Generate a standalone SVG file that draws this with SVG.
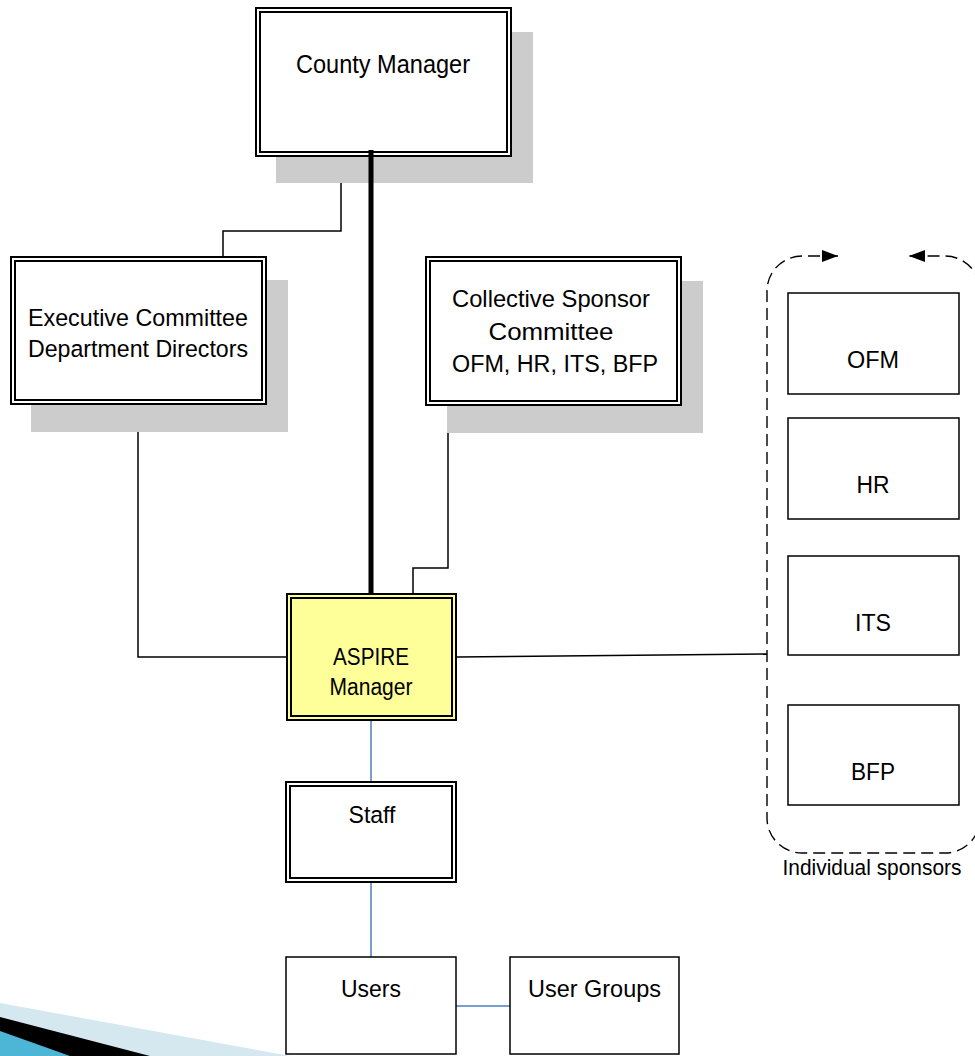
<svg xmlns="http://www.w3.org/2000/svg" width="975" height="1056" viewBox="0 0 975 1056">
<style>
text{font-family:"Liberation Sans",Arial,sans-serif;font-size:24.5px;fill:#000;text-anchor:middle}
.shadow{fill:#CCCCCC;stroke:none}
.dbl{fill:#fff;stroke:#000;stroke-width:2}
.yel{fill:#FFFF99;stroke:#000;stroke-width:2}
.box{fill:#fff;stroke:#000;stroke-width:1.5}
.ln{fill:none;stroke:#000;stroke-width:1.5}
.blue{fill:none;stroke:#4A7EBB;stroke-width:1.5}
.dash{fill:none;stroke:#000;stroke-width:1.4;stroke-dasharray:12 6}
</style>
<defs>
<marker id="arr" markerUnits="userSpaceOnUse" markerWidth="17" markerHeight="13" refX="16" refY="6" orient="auto-start-reverse">
<path d="M0,0 L16,6 L0,12 z" fill="#000"/>
</marker>
</defs>
<g id="decor">
<polygon points="0,1003 290,1056 0,1056" fill="#D5E8F0"/>
<polygon points="0,1017 150,1056 0,1056" fill="#000"/>
<polygon points="0,1031 70,1056 0,1056" fill="#4DB6D6"/>
</g>
<g id="connectors">
<path class="ln" d="M341,156 V231 H223 V256"/>
<path class="ln" d="M138,404 V657 H286"/>
<path class="ln" d="M448,405 V568 H413 V593"/>
<path class="ln" d="M457,657 L767,654"/>
<path class="blue" d="M371,721 V782"/>
<path class="blue" d="M371,882 V957"/>
<path class="blue" d="M456,1006 H510"/>
<path class="dash" d="M838,256 H802 A35,35 0 0 0 767,291 V818 A35,35 0 0 0 802,853 H945 A35,35 0 0 0 980,818 V291 A35,35 0 0 0 945,256 H909" marker-start="url(#arr)" marker-end="url(#arr)"/>
</g>
<g id="county-manager">
<rect class="shadow" x="276" y="32" width="257" height="151"/>
<rect class="dbl" x="256" y="8" width="255" height="148"/>
<rect class="dbl" x="260" y="12" width="247" height="140"/>
<text x="383" y="73" style="font-size:25.5px" textLength="174" lengthAdjust="spacingAndGlyphs">County Manager</text>
</g>
<g id="executive-committee">
<rect class="shadow" x="31" y="280" width="257" height="152"/>
<rect class="dbl" x="11" y="257" width="255" height="147"/>
<rect class="dbl" x="15" y="261" width="247" height="139"/>
<text x="138" y="326" textLength="220" lengthAdjust="spacingAndGlyphs">Executive Committee</text>
<text x="138" y="357" textLength="220" lengthAdjust="spacingAndGlyphs">Department Directors</text>
</g>
<g id="collective-sponsor">
<rect class="shadow" x="447" y="281" width="256" height="152"/>
<rect class="dbl" x="426" y="257" width="255" height="148"/>
<rect class="dbl" x="430" y="261" width="247" height="140"/>
<text x="551" y="307" textLength="198" lengthAdjust="spacingAndGlyphs">Collective Sponsor</text>
<text x="551" y="340" textLength="125" lengthAdjust="spacingAndGlyphs">Committee</text>
<text x="555" y="372" textLength="206" lengthAdjust="spacingAndGlyphs">OFM, HR, ITS, BFP</text>
</g>
<g id="thick-link">
<path d="M371,150 V601" fill="none" stroke="#000" stroke-width="5"/>
</g>
<g id="aspire-manager">
<rect class="yel" x="287" y="594" width="169" height="126"/>
<rect class="yel" x="291" y="598" width="161" height="118"/>
<text x="371" y="665" style="font-size:23px" textLength="76" lengthAdjust="spacingAndGlyphs">ASPIRE</text>
<text x="371" y="695" style="font-size:23px" textLength="83" lengthAdjust="spacingAndGlyphs">Manager</text>
</g>
<g id="staff">
<rect class="dbl" x="286" y="782" width="170" height="100"/>
<rect class="dbl" x="290" y="786" width="162" height="92"/>
<text x="372" y="823" textLength="47" lengthAdjust="spacingAndGlyphs">Staff</text>
</g>
<g id="users">
<rect class="box" x="286" y="957" width="170" height="97"/>
<text x="371" y="997" textLength="60" lengthAdjust="spacingAndGlyphs">Users</text>
</g>
<g id="user-groups">
<rect class="box" x="510" y="957" width="169" height="97"/>
<text x="594.5" y="997" textLength="133" lengthAdjust="spacingAndGlyphs">User Groups</text>
</g>
<g id="ofm">
<rect class="box" x="788" y="293" width="171" height="101"/>
<text x="873" y="368" textLength="52" lengthAdjust="spacingAndGlyphs">OFM</text>
</g>
<g id="hr">
<rect class="box" x="788" y="418" width="171" height="101"/>
<text x="873" y="493" textLength="33" lengthAdjust="spacingAndGlyphs">HR</text>
</g>
<g id="its">
<rect class="box" x="788" y="556" width="171" height="99"/>
<text x="873" y="631" textLength="36" lengthAdjust="spacingAndGlyphs">ITS</text>
</g>
<g id="bfp">
<rect class="box" x="788" y="705" width="171" height="100"/>
<text x="873" y="780" textLength="44" lengthAdjust="spacingAndGlyphs">BFP</text>
</g>
<g id="individual-sponsors-label">
<text x="872" y="875" style="font-size:22px" textLength="179" lengthAdjust="spacingAndGlyphs">Individual sponsors</text>
</g>
</svg>
